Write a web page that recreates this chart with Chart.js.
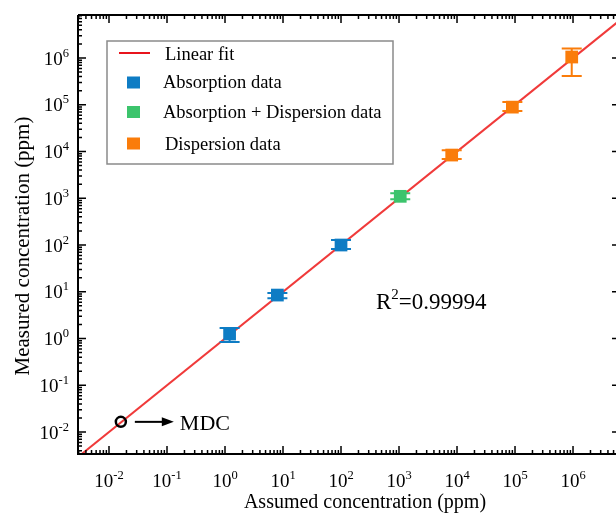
<!DOCTYPE html>
<html>
<head>
<meta charset="utf-8">
<script src="https://cdn.jsdelivr.net/npm/chart.js@4.4.1/dist/chart.umd.min.js"></script>
<style>
html,body{margin:0;padding:0;background:#fff;overflow:hidden}
#wrap{width:616px;height:519px;position:relative}
</style>
</head>
<body>
<div id="wrap"><canvas id="c" width="616" height="519"></canvas></div>
<script>
// ---------- data ----------
const fitX = [0.001, 10000000];
const fitY = [0.001, 10000000];

const absX = [1.2, 8, 100];
const absY = [1.25, 8.5, 100];
const absLow = [0.84, 7.3, 82];
const absHigh = [1.68, 9.4, 128];

const mixX = [1050];
const mixY = [1100];
const mixLow = [950];
const mixHigh = [1280];

const dispX = [8100, 90000, 950000];
const dispY = [8400, 89000, 1050000];
const dispLow = [6900, 73500, 410000];
const dispHigh = [10700, 115000, 1600000];

const mdcX = [0.016];
const mdcY = [0.0165];

const xTickExps = [-2, -1, 0, 1, 2, 3, 4, 5, 6];
const yTickExps = [-2, -1, 0, 1, 2, 3, 4, 5, 6];

const seriesLabels = ['Linear fit', 'Absorption data', 'Absorption + Dispersion data', 'Dispersion data'];
const xTitle = 'Assumed concentration (ppm)';
const yTitle = 'Measured concentration (ppm)';
const r2Base = 'R';
const r2Sup = '2';
const r2Rest = '=0.99994';
const mdcLabel = 'MDC';

// ---------- styles ----------
const RED = '#f03a3a';
const BLUE = '#0e7cc4';
const GREEN = '#3cc46c';
const ORANGE = '#fa7c0a';
const SERIF = '"Liberation Serif", "Times New Roman", serif';

function pts(xs, ys) { return xs.map((x, i) => ({x: x, y: ys[i]})); }

const errorBars = {
  1: {low: absLow, high: absHigh, color: BLUE},
  2: {low: mixLow, high: mixHigh, color: GREEN},
  3: {low: dispLow, high: dispHigh, color: ORANGE}
};

const decoPlugin = {
  id: 'deco',
  afterDatasetsDraw(chart) {
    const ctx = chart.ctx;
    const xs = chart.scales.x, ys = chart.scales.y;
    const a = chart.chartArea;
    ctx.save();

    // error bars
    Object.keys(errorBars).forEach(k => {
      const eb = errorBars[k];
      const ds = chart.data.datasets[k];
      ctx.strokeStyle = eb.color;
      ctx.lineWidth = 2;
      ds.data.forEach((p, i) => {
        const px = xs.getPixelForValue(p.x);
        const pl = ys.getPixelForValue(eb.low[i]);
        const ph = ys.getPixelForValue(eb.high[i]);
        ctx.beginPath();
        ctx.moveTo(px, pl); ctx.lineTo(px, ph);
        ctx.moveTo(px - 10, pl); ctx.lineTo(px + 10, pl);
        ctx.moveTo(px - 10, ph); ctx.lineTo(px + 10, ph);
        ctx.stroke();
      });
    });

    // frame
    ctx.strokeStyle = '#000';
    ctx.lineWidth = 2;
    ctx.beginPath();
    ctx.moveTo(a.left, a.top); ctx.lineTo(a.right + 4, a.top);
    ctx.moveTo(a.left, a.top); ctx.lineTo(a.left, a.bottom);
    ctx.moveTo(a.left - 1, a.bottom); ctx.lineTo(a.right + 4, a.bottom);
    ctx.moveTo(a.right + 4, a.top); ctx.lineTo(a.right + 4, a.bottom);
    ctx.stroke();

    // ticks
    ctx.lineWidth = 1.5;
    function ticksFor(scale, cb) {
      const lo = Math.floor(Math.log10(scale.min)), hi = Math.ceil(Math.log10(scale.max));
      for (let e = lo; e <= hi; e++) {
        for (let m = 1; m <= 9; m++) {
          const v = m * Math.pow(10, e);
          if (v < scale.min || v > scale.max) continue;
          cb(scale.getPixelForValue(v), m === 1 ? 8 : 4);
        }
      }
    }
    ctx.beginPath();
    ticksFor(xs, (p, len) => {
      ctx.moveTo(p, a.bottom); ctx.lineTo(p, a.bottom - len);
      ctx.moveTo(p, a.top); ctx.lineTo(p, a.top + len);
    });
    ticksFor(ys, (p, len) => {
      ctx.moveTo(a.left, p); ctx.lineTo(a.left + len, p);
      ctx.moveTo(a.right + 4, p); ctx.lineTo(a.right + 4 - len, p);
    });
    ctx.stroke();

    // tick labels
    ctx.fillStyle = '#000';
    const bigF = '19px ' + SERIF, supF = '12.5px ' + SERIF;
    ctx.textBaseline = 'alphabetic';
    ctx.textAlign = 'left';
    xTickExps.forEach(e => {
      const p = xs.getPixelForValue(Math.pow(10, e));
      ctx.font = bigF; const w1 = ctx.measureText('10').width;
      ctx.font = supF; const w2 = ctx.measureText(String(e)).width;
      const x0 = p - (w1 + w2) / 2;
      ctx.font = bigF; ctx.fillText('10', x0, 487);
      ctx.font = supF; ctx.fillText(String(e), x0 + w1, 479);
    });
    yTickExps.forEach(e => {
      const p = ys.getPixelForValue(Math.pow(10, e));
      ctx.font = bigF; const w1 = ctx.measureText('10').width;
      ctx.font = supF; const w2 = ctx.measureText(String(e)).width;
      const x0 = 69 - w1 - w2;
      ctx.font = bigF; ctx.fillText('10', x0, p + 6.5);
      ctx.font = supF; ctx.fillText(String(e), x0 + w1, p - 1.5);
    });

    // axis titles
    ctx.font = '20px ' + SERIF;
    ctx.textAlign = 'center';
    ctx.fillText(xTitle, 365, 508);
    ctx.save();
    ctx.translate(23, 246);
    ctx.rotate(-Math.PI / 2);
    ctx.font = '21px ' + SERIF;
    ctx.textBaseline = 'middle';
    ctx.fillText(yTitle, 0, 0);
    ctx.restore();

    // R^2 text
    ctx.textAlign = 'left';
    ctx.textBaseline = 'alphabetic';
    let rx = 376;
    ctx.font = '23px ' + SERIF; ctx.fillText(r2Base, rx, 309); rx += ctx.measureText(r2Base).width;
    ctx.font = '15px ' + SERIF; ctx.fillText(r2Sup, rx, 299); rx += ctx.measureText(r2Sup).width;
    ctx.font = '23px ' + SERIF; ctx.fillText(r2Rest, rx, 309);

    // MDC arrow + label
    const mx = xs.getPixelForValue(mdcX[0]), my = ys.getPixelForValue(mdcY[0]);
    ctx.strokeStyle = '#000'; ctx.lineWidth = 2;
    ctx.beginPath(); ctx.moveTo(mx + 14, my); ctx.lineTo(mx + 44, my); ctx.stroke();
    ctx.beginPath(); ctx.moveTo(mx + 53, my); ctx.lineTo(mx + 41, my - 4.5); ctx.lineTo(mx + 41, my + 4.5); ctx.closePath(); ctx.fill();
    ctx.font = '22px ' + SERIF;
    ctx.fillText(mdcLabel, mx + 59, my + 8);

    // legend
    ctx.strokeStyle = '#8a8a8a'; ctx.lineWidth = 1.5;
    ctx.fillStyle = '#fff';
    ctx.fillRect(107, 41, 286, 123);
    ctx.strokeRect(107, 41, 286, 123);
    ctx.strokeStyle = '#e8141c'; ctx.lineWidth = 2;
    ctx.beginPath(); ctx.moveTo(119, 53); ctx.lineTo(150, 53); ctx.stroke();
    const legRows = [
      {y: 82.5, color: BLUE},
      {y: 112, color: GREEN},
      {y: 143.5, color: ORANGE}
    ];
    legRows.forEach(r => { ctx.fillStyle = r.color; ctx.fillRect(127, r.y - 6, 13, 12); });
    ctx.fillStyle = '#000';
    ctx.font = '18.5px ' + SERIF;
    ctx.textBaseline = 'middle';
    ctx.fillText(chart.data.datasets[0].label, 165, 55);
    ctx.fillText(chart.data.datasets[1].label, 163, 83);
    ctx.fillText(chart.data.datasets[2].label, 163, 113);
    ctx.fillText(chart.data.datasets[3].label, 165, 145);

    ctx.restore();
  }
};

new Chart(document.getElementById('c'), {
  type: 'scatter',
  data: {
    datasets: [
      {label: seriesLabels[0], data: pts(fitX, fitY), showLine: true, borderColor: RED, borderWidth: 2,
       pointRadius: 0, order: 10},
      {label: seriesLabels[1], data: pts(absX, absY), pointStyle: 'rect', pointRadius: 9,
       backgroundColor: BLUE, borderWidth: 0, order: 1},
      {label: seriesLabels[2], data: pts(mixX, mixY), pointStyle: 'rect', pointRadius: 9,
       backgroundColor: GREEN, borderWidth: 0, order: 1},
      {label: seriesLabels[3], data: pts(dispX, dispY), pointStyle: 'rect', pointRadius: 9,
       backgroundColor: ORANGE, borderWidth: 0, order: 1},
      {label: mdcLabel, data: pts(mdcX, mdcY), pointStyle: 'circle', pointRadius: 5,
       backgroundColor: 'rgba(0,0,0,0)', borderColor: '#000', borderWidth: 2.5, order: 0}
    ]
  },
  options: {
    responsive: false,
    animation: false,
    devicePixelRatio: 1,
    layout: {autoPadding: false, padding: {left: 78, top: 15, right: 0, bottom: 65}},
    scales: {
      x: {type: 'logarithmic', display: false, min: Math.pow(10, -2.5345), max: Math.pow(10, 6.741)},
      y: {type: 'logarithmic', display: false, min: Math.pow(10, -2.47), max: Math.pow(10, 6.92)}
    },
    plugins: {legend: {display: false}, tooltip: {enabled: false}}
  },
  plugins: [decoPlugin]
});
</script>
</body>
</html>
